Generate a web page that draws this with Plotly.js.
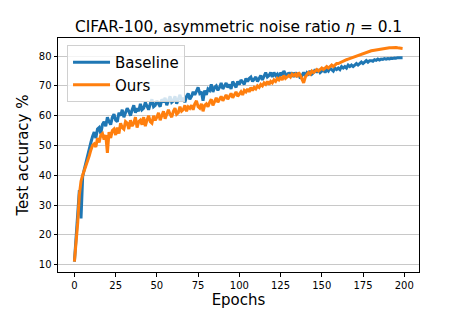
<!DOCTYPE html>
<html>
<head>
<meta charset="utf-8">
<script src="https://cdn.plot.ly/plotly-3.0.1.min.js"></script>
<style>html,body{margin:0;padding:0;background:#fff;}#chart{width:466px;height:311px;}</style>
</head>
<body>
<div id="chart"></div>
<script>
const baseline = [
11.0, 18.5, 27.0, 35.0, 25.5, 39.5, 42.0, 44.5, 46.5, 49.5,
51.0, 53.0, 54.5, 52.5, 55.5, 56.0, 54.0, 57.0, 58.0, 56.5,
59.5, 58.0, 57.0, 59.5, 60.5, 58.5, 58.0, 61.0, 60.0, 62.0,
59.5, 61.0, 62.5, 61.5, 60.0, 62.0, 63.5, 61.0, 62.5, 61.5,
64.0, 62.0, 62.5, 64.5, 63.0, 62.0, 64.0, 65.5, 63.0, 63.5,
65.0, 64.0, 63.0, 65.5, 64.5, 66.0, 63.5, 65.0, 66.5, 64.5,
65.0, 66.5, 64.0, 65.5, 67.0, 65.0, 66.0, 64.5, 66.5, 67.5,
65.5, 66.5, 68.0, 67.0, 68.5, 69.5, 67.5, 68.0, 65.0, 68.5,
67.0, 69.0, 68.5, 70.5, 68.0, 69.5, 70.0, 68.5, 69.5, 71.0,
69.0, 70.0, 71.0, 69.5, 70.5, 69.0, 71.5, 70.5, 69.5, 71.5,
70.5, 72.0, 71.0, 70.5, 72.5, 71.5, 72.5, 73.0, 71.5, 72.5,
73.0, 71.5, 72.5, 73.5, 72.0, 73.0, 74.5, 73.0, 73.5, 74.5,
73.0, 74.5, 73.5, 74.0, 72.5, 74.5, 73.5, 75.0, 74.0, 73.0,
74.5, 73.5, 74.5, 73.0, 74.5, 73.5, 74.0, 72.5, 73.5, 74.5,
73.5, 74.5, 74.0, 75.0, 74.0, 74.5, 75.5, 74.5, 75.5, 74.5,
75.0, 75.5, 74.5, 75.5, 75.0, 76.0, 75.5, 75.0, 76.0, 75.5,
76.0, 75.5, 76.5, 76.0, 76.5, 76.0, 77.0, 76.5, 77.0, 76.5,
77.0, 77.5, 77.0, 77.5, 78.0, 77.5, 78.0, 78.5, 78.0, 78.5,
78.5, 78.3, 78.8, 78.6, 79.0, 78.7, 79.0, 78.9, 79.2, 79.0,
79.2, 79.1, 79.3, 79.2, 79.4, 79.3, 79.5, 79.4, 79.5, 79.5
];
const ours = [
11.0, 17.0, 24.0, 33.5, 38.0, 40.0, 41.5, 43.0, 44.5, 46.5,
48.5, 50.0, 50.5, 49.5, 52.5, 51.0, 53.5, 54.0, 52.0, 53.5,
47.5, 54.5, 52.5, 55.0, 55.5, 53.5, 56.0, 54.0, 57.5, 56.0,
55.5, 58.0, 57.5, 55.5, 58.5, 56.5, 57.5, 59.5, 56.0, 58.0,
58.5, 57.0, 59.5, 56.5, 58.5, 60.0, 58.0, 57.5, 60.0, 58.5,
59.5, 61.0, 58.5, 60.0, 61.5, 59.0, 60.5, 62.0, 60.5, 59.5,
61.5, 62.5, 60.5, 61.0, 63.0, 61.5, 62.0, 63.5, 61.5, 63.0,
62.5, 63.5, 62.0, 64.0, 65.0, 63.0, 62.5, 64.0, 61.5, 63.5,
64.0, 63.0, 64.5, 65.5, 63.5, 65.0, 66.0, 64.5, 65.5, 66.5,
65.0, 66.0, 67.0, 65.5, 66.5, 67.5, 66.0, 67.0, 68.0, 66.5,
67.5, 68.0, 67.0, 68.5, 68.0, 69.0, 68.0, 69.5, 68.5, 69.5,
69.0, 70.0, 69.5, 70.5, 70.0, 71.0, 70.5, 71.5, 70.5, 71.5,
71.0, 72.0, 71.5, 72.5, 72.0, 73.0, 72.0, 73.5, 72.5, 73.0,
73.5, 73.0, 74.0, 73.5, 74.0, 73.0, 74.5, 73.5, 72.5, 71.0,
73.0, 74.0, 74.5, 74.0, 75.0, 74.5, 75.0, 75.5, 75.0, 75.5,
76.0, 75.5, 76.0, 76.5, 76.0, 76.5, 77.0, 76.5, 77.0, 77.5,
77.5, 77.8, 78.0, 78.3, 78.5, 78.8, 79.0, 79.2, 79.5, 79.8,
80.0, 80.2, 80.4, 80.6, 80.8, 81.0, 81.2, 81.3, 81.5, 81.7,
81.8, 81.9, 82.0, 82.2, 82.3, 82.4, 82.5, 82.5, 82.6, 82.7,
82.7, 82.8, 82.8, 82.9, 82.8, 82.9, 82.8, 82.7, 82.6, 82.6
];
const epochs = baseline.map((_, i) => i);
const seriesNames = ["Baseline", "Ours"];
const xTicks = [0, 25, 50, 75, 100, 125, 150, 175, 200];
const yTicks = [10, 20, 30, 40, 50, 60, 70, 80];

const font = "DejaVu Sans, sans-serif";
const traces = [
  {x: epochs, y: baseline, name: seriesNames[0], type: "scatter", mode: "lines",
   line: {color: "#1f77b4", width: 3}},
  {x: epochs, y: ours, name: seriesNames[1], type: "scatter", mode: "lines",
   line: {color: "#ff7f0e", width: 3}}
];
const axisCommon = {
  showline: true, mirror: true, linecolor: "#000", linewidth: 1,
  ticks: "outside", ticklen: 3.5, tickcolor: "#000", tickwidth: 1,
  tickfont: {family: font, size: 10, color: "#000"}, zeroline: false
};
const layout = {
  width: 466, height: 311,
  margin: {l: 58, r: 47, t: 38, b: 39},
  paper_bgcolor: "#fff", plot_bgcolor: "#fff",
  title: {text: "CIFAR-100, asymmetric noise ratio <i>η</i> = 0.1",
          font: {family: font, size: 15.4, color: "#000"},
          x: 0.512, xanchor: "center", y: 0.915, yanchor: "middle"},
  xaxis: Object.assign({}, axisCommon, {
    range: [-9.95, 208.95], tickvals: xTicks, showgrid: false,
    title: {text: "Epochs", font: {family: font, size: 15, color: "#000"}, standoff: 4}
  }),
  yaxis: Object.assign({}, axisCommon, {
    range: [7.5, 86.1], tickvals: yTicks, showgrid: true, gridcolor: "#c8c8c8", gridwidth: 1,
    title: {text: "Test accuracy %", font: {family: font, size: 15, color: "#000"}, standoff: 6}
  }),
  legend: {x: 0.025, y: 0.97, xanchor: "left", yanchor: "top", itemwidth: 37,
           bgcolor: "rgba(255,255,255,0.8)", bordercolor: "#d0d0d0", borderwidth: 1,
           font: {family: font, size: 15, color: "#000"}, tracegroupgap: 0},
  showlegend: true
};
Plotly.newPlot("chart", traces, layout, {displayModeBar: false, staticPlot: true});
</script>
</body>
</html>
